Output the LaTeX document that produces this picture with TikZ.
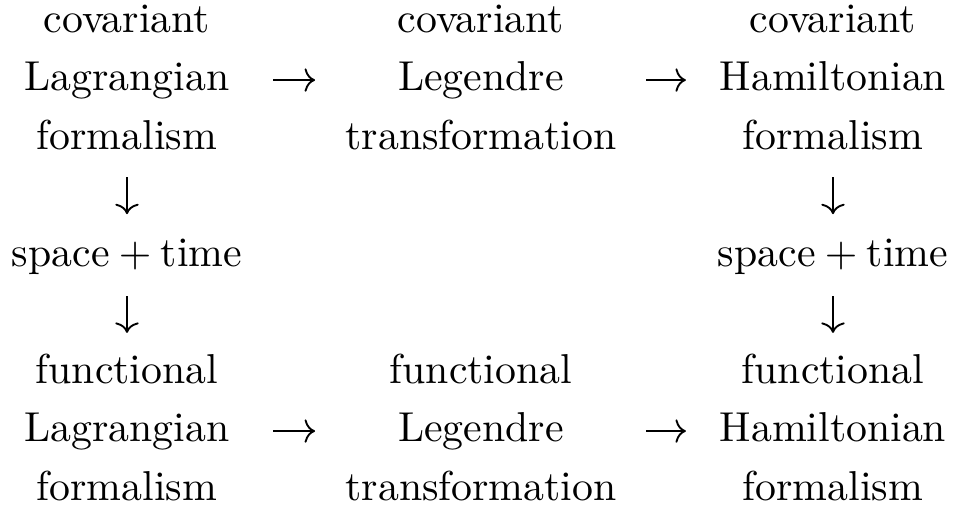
\documentclass[tikz,border=0pt]{standalone}
\usetikzlibrary{arrows.meta}
\begin{document}
\begin{tikzpicture}[x=0.23923pt,y=-0.23923pt,
  txt/.style={inner sep=0pt, outer sep=0pt, anchor=base, text height=7pt, text depth=2pt},
  conn/.style={-{Computer Modern Rightarrow[length=2.5pt,width=5.6pt]}, line width=0.45pt}]
\useasboundingbox (0,0) rectangle (956,506);
% column 1 top
\node[txt] (c1a) at (127,32)    {covariant};
\node[txt] (c1b) at (127,90.5)  {Lagrangian};
\node[txt] (c1c) at (127,149)   {formalism};
% column 2 top
\node[txt] (c2a) at (481,32)    {covariant};
\node[txt] (c2b) at (481,90.5)  {Legendre};
\node[txt] (c2c) at (481,149)   {transformation};
% column 3 top
\node[txt] (c3a) at (833,32)    {covariant};
\node[txt] (c3b) at (833,90.5)  {Hamiltonian};
\node[txt] (c3c) at (833,149)   {formalism};
% middle
\node[txt] (s1) at (127,266) {space${}+{}$time};
\node[txt] (s3) at (833,266) {space${}+{}$time};
% column 1 bottom
\node[txt] (f1a) at (127,383)   {functional};
\node[txt] (f1b) at (127,441.5) {Lagrangian};
\node[txt] (f1c) at (127,500)   {formalism};
% column 2 bottom
\node[txt] (f2a) at (481,383)   {functional};
\node[txt] (f2b) at (481,441.5) {Legendre};
\node[txt] (f2c) at (481,500)   {transformation};
% column 3 bottom
\node[txt] (f3a) at (833,383)   {functional};
\node[txt] (f3b) at (833,441.5) {Hamiltonian};
\node[txt] (f3c) at (833,500)   {formalism};
% horizontal arrows
\draw[conn, shorten <=10.5pt, shorten >=19.9pt] ([yshift=2.5pt]c1b.base east) -- ([yshift=2.5pt]c2b.base west);
\draw[conn, shorten <=19.7pt, shorten >=8.1pt]  ([yshift=2.5pt]c2b.base east) -- ([yshift=2.5pt]c3b.base west);
\draw[conn, shorten <=10.5pt, shorten >=19.9pt] ([yshift=2.5pt]f1b.base east) -- ([yshift=2.5pt]f2b.base west);
\draw[conn, shorten <=19.7pt, shorten >=8.1pt]  ([yshift=2.5pt]f2b.base east) -- ([yshift=2.5pt]f3b.base west);
% vertical arrows
\draw[conn, shorten <=4.7pt, shorten >=5.4pt] (c1c.south) -- (s1.north);
\draw[conn, shorten <=5.2pt, shorten >=5.0pt] (s1.south) -- (f1a.north);
\draw[conn, shorten <=4.7pt, shorten >=5.4pt] (c3c.south) -- (s3.north);
\draw[conn, shorten <=5.2pt, shorten >=5.0pt] (s3.south) -- (f3a.north);
\end{tikzpicture}
\end{document}
